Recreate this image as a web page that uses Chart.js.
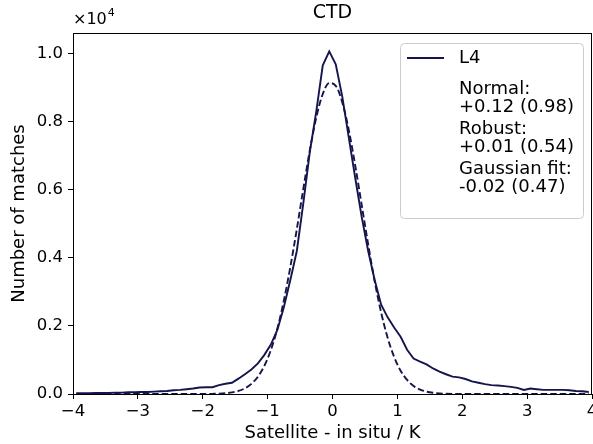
<!DOCTYPE html>
<html>
<head>
<meta charset="utf-8">
<script src="https://cdn.jsdelivr.net/npm/chart.js@4"></script>
<style>
  html, body { margin: 0; padding: 0; background: #fff; }
  canvas { display: block; }
</style>
</head>
<body>
<canvas id="ctd" width="593" height="444"></canvas>
<script>
// bin centres of the histogram (K)
const binCenters = [
  -3.95, -3.85, -3.75, -3.65, -3.55, -3.45, -3.35, -3.25, -3.15, -3.05,
  -2.95, -2.85, -2.75, -2.65, -2.55, -2.45, -2.35, -2.25, -2.15, -2.05,
  -1.95, -1.85, -1.75, -1.65, -1.55, -1.45, -1.35, -1.25, -1.15, -1.05,
  -0.95, -0.85, -0.75, -0.65, -0.55, -0.45, -0.35, -0.25, -0.15, -0.05,
   0.05,  0.15,  0.25,  0.35,  0.45,  0.55,  0.65,  0.75,  0.85,  0.95,
   1.05,  1.15,  1.25,  1.35,  1.45,  1.55,  1.65,  1.75,  1.85,  1.95,
   2.05,  2.15,  2.25,  2.35,  2.45,  2.55,  2.65,  2.75,  2.85,  2.95,
   3.05,  3.15,  3.25,  3.35,  3.45,  3.55,  3.65,  3.75,  3.85,  3.95
];

// L4 matches per bin
const l4Counts = [
  20, 20, 20, 30, 30, 30, 40, 40, 50, 50,
  60, 60, 70, 80, 90, 110, 120, 140, 160, 190,
  200, 200, 260, 300, 330, 450, 580, 720, 900, 1150,
  1450, 1880, 2550, 3350, 4200, 5600, 7100, 8300, 9650, 10060,
  9680, 8740, 7540, 6350, 5200, 4200, 3350, 2620, 2250, 1950,
  1680, 1300, 1040, 950, 870, 750, 660, 580, 510, 490,
  440, 370, 330, 290, 260, 250, 230, 210, 180, 120,
  160, 140, 120, 120, 120, 120, 110, 90, 80, 60
];

// gaussian fit (dashed)
const gaussFit = [
  0, 0, 0, 0, 0, 0, 0, 0, 0, 0,
  0, 0, 0, 0, 0, 0, 0, 0, 0, 0,
  2, 5, 10, 22, 46, 89, 167, 298, 508, 829,
  1290, 1920, 2740, 3730, 4840, 6020, 7150, 8120, 8810, 9130,
  9050, 8570, 7760, 6710, 5550, 4390, 3310, 2390, 1650, 1090,
  685, 413, 238, 131, 69, 35, 17, 8, 3, 1,
  0, 0, 0, 0, 0, 0, 0, 0, 0, 0,
  0, 0, 0, 0, 0, 0, 0, 0, 0, 0
];

const xTicks = [-4, -3, -2, -1, 0, 1, 2, 3, 4];
const yTicks = [0, 2000, 4000, 6000, 8000, 10000];

const legendLines = [
  'L4',
  'Normal:', '+0.12 (0.98)',
  'Robust:', '+0.01 (0.54)',
  'Gaussian fit:', '-0.02 (0.47)'
];

const navy = '#15144c';
const FONT = "'DejaVu Sans', sans-serif";

// title, offset text, full frame and the legend box
const extras = {
  id: 'extras',
  afterDraw(chart) {
    const c = chart.ctx;
    const a = chart.chartArea;
    c.save();
    // frame
    c.strokeStyle = '#000';
    c.lineWidth = 1;
    c.strokeRect(Math.round(a.left) + 0.5, Math.round(a.top) + 0.5,
                 Math.round(a.right - a.left) - 1, Math.round(a.bottom - a.top));
    // title
    c.fillStyle = '#000';
    c.textAlign = 'center';
    c.textBaseline = 'middle';
    c.font = '19px ' + FONT;
    c.fillText('CTD', (a.left + a.right) / 2, 13);
    // x10^4
    c.textAlign = 'left';
    c.font = '16px ' + FONT;
    c.fillText('\u00d710', a.left, 20);
    const w = c.measureText('\u00d710').width;
    c.font = '11px ' + FONT;
    c.fillText('4', a.left + w + 1, 13);

    // legend
    const bx = 400.5, by = 43.5, bw = 183, bh = 175;
    c.beginPath();
    c.roundRect(bx, by, bw, bh, 4);
    c.fillStyle = 'rgba(255,255,255,0.8)';
    c.fill();
    c.strokeStyle = '#cccccc';
    c.lineWidth = 1;
    c.stroke();
    c.beginPath();
    c.moveTo(407, 58);
    c.lineTo(444, 58);
    c.strokeStyle = navy;
    c.lineWidth = 1.9;
    c.stroke();
    const ys = [58, 89, 107, 129, 147, 169, 187];
    c.fillStyle = '#000';
    c.font = '18px ' + FONT;
    c.textBaseline = 'middle';
    legendLines.forEach((t, i) => c.fillText(t, 459, ys[i]));
    c.restore();
  }
};

new Chart(document.getElementById('ctd'), {
  type: 'line',
  data: {
    datasets: [{
      label: 'L4',
      data: binCenters.map((x, i) => ({x: x, y: l4Counts[i]})),
      borderColor: navy,
      borderWidth: 1.9,
      pointRadius: 0,
      fill: false
    }, {
      label: 'Gaussian fit',
      data: binCenters.map((x, i) => ({x: x, y: gaussFit[i]})),
      borderColor: navy,
      borderWidth: 1.9,
      borderDash: [6.5, 3],
      cubicInterpolationMode: 'monotone',
      pointRadius: 0,
      fill: false
    }]
  },
  options: {
    responsive: false,
    animation: false,
    devicePixelRatio: 1,
    layout: {padding: {top: 33, right: 1, left: 0, bottom: 0}},
    plugins: {
      legend: {display: false},
      title: {display: false},
      tooltip: {enabled: false}
    },
    scales: {
      x: {
        type: 'linear',
        min: -4,
        max: 4,
        afterBuildTicks: s => { s.ticks = xTicks.map(v => ({value: v})); },
        afterFit: s => { s.height = 50; s.paddingLeft = 0; s.paddingRight = 0; },
        ticks: {
          color: '#000',
          font: {family: FONT, size: 16.5},
          padding: 3,
          maxRotation: 0,
          callback: v => v < 0 ? '\u2212' + Math.abs(v) : String(v)
        },
        grid: {drawOnChartArea: false, drawTicks: true, tickLength: 5, color: '#000'},
        border: {display: false},
        title: {
          display: true,
          text: 'Satellite - in situ / K',
          color: '#000',
          font: {family: FONT, size: 18},
          padding: {top: 0, bottom: 0}
        }
      },
      y: {
        min: 0,
        max: 10600,
        afterBuildTicks: s => { s.ticks = yTicks.map(v => ({value: v})); },
        afterFit: s => { s.width = 73; s.paddingTop = 0; s.paddingBottom = 0; },
        ticks: {
          color: '#000',
          font: {family: FONT, size: 16.5},
          padding: 5,
          callback: v => (v / 10000).toFixed(1)
        },
        grid: {drawOnChartArea: false, drawTicks: true, tickLength: 5, color: '#000'},
        border: {display: false},
        title: {
          display: true,
          text: 'Number of matches',
          color: '#000',
          font: {family: FONT, size: 18},
          padding: {top: 9, bottom: 0}
        }
      }
    }
  },
  plugins: [extras]
});
</script>
</body>
</html>
